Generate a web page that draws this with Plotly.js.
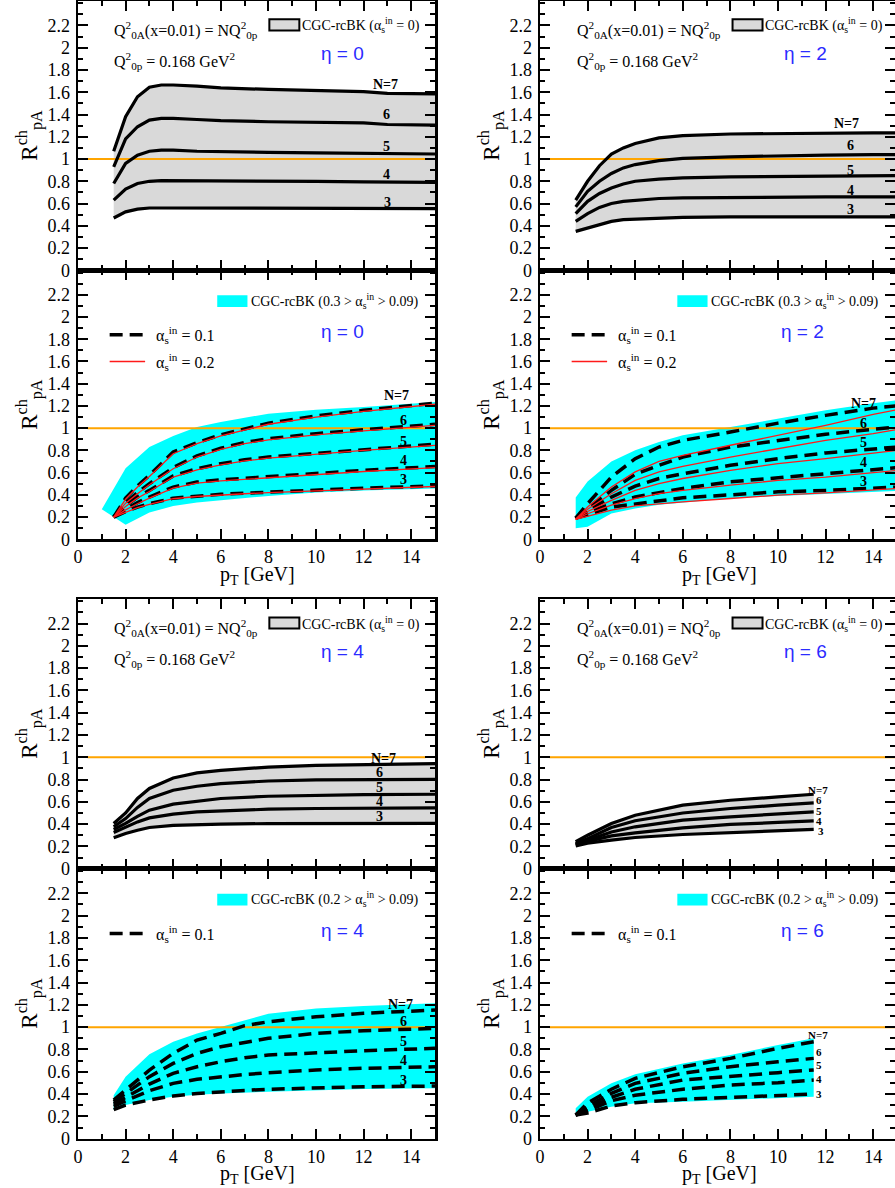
<!DOCTYPE html>
<html><head><meta charset="utf-8">
<script src="https://cdn.plot.ly/plotly-3.0.1.min.js"></script>
<style>body{margin:0;padding:0;background:#fff}#chart{width:895px;height:1188px}</style>
</head><body><div id="chart"></div>
<script>
// ---------------- DATA ----------------
// Panel 1: eta = 0, alpha_in = 0 (grey band)
const xA = [1.5, 2, 2.5, 3, 3.5, 4, 5, 6, 8, 10, 12, 13, 14, 15];
const eta0_a0_N7 = [1.07, 1.38, 1.56, 1.645, 1.665, 1.665, 1.655, 1.64, 1.625, 1.615, 1.605, 1.59, 1.59, 1.585];
const eta0_a0_N6 = [0.93, 1.18, 1.29, 1.35, 1.365, 1.365, 1.355, 1.345, 1.335, 1.33, 1.325, 1.31, 1.31, 1.305];
const eta0_a0_N5 = [0.78, 0.96, 1.035, 1.07, 1.08, 1.08, 1.07, 1.065, 1.06, 1.055, 1.05, 1.045, 1.045, 1.045];
const eta0_a0_N4 = [0.63, 0.73, 0.78, 0.80, 0.805, 0.805, 0.80, 0.80, 0.80, 0.80, 0.795, 0.795, 0.795, 0.79];
const eta0_a0_N3 = [0.47, 0.525, 0.55, 0.56, 0.56, 0.56, 0.56, 0.56, 0.56, 0.56, 0.56, 0.56, 0.555, 0.555];

// Panel 2: eta = 0, running coupling band + alpha_in = 0.1 (dashed) and 0.2 (red)
const xBandB = [1, 2, 3, 4, 5, 6, 8, 10, 12, 15];
const eta0_bandHi = [0.27, 0.64, 0.83, 0.93, 1.01, 1.055, 1.13, 1.165, 1.19, 1.235];
const eta0_bandLo = [0.27, 0.13, 0.24, 0.30, 0.33, 0.35, 0.39, 0.42, 0.44, 0.457];
const xB = [1.5, 2, 2.5, 3, 4, 5, 6, 7, 8, 10, 12, 15];
const eta0_a1_N7 = [0.20, 0.37, 0.48, 0.575, 0.785, 0.87, 0.94, 0.995, 1.045, 1.11, 1.16, 1.225];
const eta0_a1_N6 = [0.20, 0.33, 0.42, 0.50, 0.645, 0.75, 0.82, 0.87, 0.905, 0.95, 0.985, 1.035];
const eta0_a1_N5 = [0.20, 0.30, 0.38, 0.44, 0.57, 0.635, 0.68, 0.715, 0.74, 0.775, 0.81, 0.855];
const eta0_a1_N4 = [0.20, 0.27, 0.33, 0.38, 0.47, 0.515, 0.535, 0.55, 0.565, 0.595, 0.62, 0.655];
const eta0_a1_N3 = [0.20, 0.25, 0.29, 0.32, 0.37, 0.39, 0.405, 0.415, 0.425, 0.44, 0.46, 0.48];
const eta0_a2_N7 = [0.20, 0.36, 0.47, 0.565, 0.77, 0.86, 0.93, 0.985, 1.035, 1.10, 1.15, 1.215];
const eta0_a2_N6 = [0.20, 0.325, 0.41, 0.49, 0.635, 0.74, 0.81, 0.86, 0.895, 0.94, 0.975, 1.025];
const eta0_a2_N5 = [0.20, 0.295, 0.37, 0.43, 0.56, 0.625, 0.67, 0.705, 0.73, 0.765, 0.80, 0.845];
const eta0_a2_N4 = [0.20, 0.265, 0.32, 0.37, 0.46, 0.505, 0.525, 0.54, 0.555, 0.585, 0.61, 0.645];
const eta0_a2_N3 = [0.20, 0.245, 0.285, 0.315, 0.365, 0.385, 0.40, 0.41, 0.42, 0.435, 0.455, 0.475];

// Panel 3: eta = 2, alpha_in = 0
const xC = [1.5, 2, 2.5, 3, 3.5, 4, 5, 6, 8, 10, 12, 14, 15];
const eta2_a0_N7 = [0.63, 0.80, 0.94, 1.045, 1.10, 1.14, 1.19, 1.21, 1.225, 1.23, 1.235, 1.235, 1.235];
const eta2_a0_N6 = [0.57, 0.71, 0.80, 0.87, 0.92, 0.95, 0.985, 1.005, 1.02, 1.03, 1.035, 1.04, 1.04];
const eta2_a0_N5 = [0.51, 0.62, 0.69, 0.74, 0.775, 0.80, 0.82, 0.83, 0.84, 0.845, 0.85, 0.85, 0.85];
const eta2_a0_N4 = [0.44, 0.51, 0.565, 0.60, 0.62, 0.63, 0.645, 0.65, 0.655, 0.66, 0.66, 0.66, 0.66];
const eta2_a0_N3 = [0.35, 0.38, 0.415, 0.44, 0.455, 0.46, 0.47, 0.475, 0.48, 0.48, 0.48, 0.48, 0.48];

// Panel 4: eta = 2
const xD = [1.5, 2, 3, 4, 5, 6, 8, 10, 12, 14, 15];
const eta2_bandHi = [0.375, 0.52, 0.70, 0.80, 0.875, 0.935, 1.01, 1.085, 1.16, 1.225, 1.25];
const eta2_bandLo = [0.10, 0.113, 0.233, 0.278, 0.31, 0.33, 0.37, 0.39, 0.41, 0.43, 0.435];
const eta2_a1_N7 = [0.19, 0.32, 0.56, 0.725, 0.83, 0.89, 0.965, 1.045, 1.115, 1.18, 1.20];
const eta2_a1_N6 = [0.19, 0.28, 0.44, 0.585, 0.665, 0.74, 0.83, 0.89, 0.945, 0.99, 1.01];
const eta2_a1_N5 = [0.19, 0.26, 0.38, 0.478, 0.547, 0.59, 0.666, 0.726, 0.777, 0.81, 0.83];
const eta2_a1_N4 = [0.19, 0.24, 0.32, 0.38, 0.42, 0.457, 0.517, 0.556, 0.59, 0.63, 0.645];
const eta2_a1_N3 = [0.19, 0.22, 0.29, 0.32, 0.345, 0.373, 0.40, 0.427, 0.44, 0.463, 0.47];
const eta2_a2_N7 = [0.18, 0.29, 0.47, 0.606, 0.70, 0.756, 0.846, 0.935, 1.025, 1.124, 1.166];
const eta2_a2_N6 = [0.18, 0.27, 0.41, 0.53, 0.606, 0.657, 0.74, 0.816, 0.89, 0.95, 0.987];
const eta2_a2_N5 = [0.18, 0.25, 0.35, 0.44, 0.50, 0.547, 0.62, 0.68, 0.726, 0.777, 0.80];
const eta2_a2_N4 = [0.18, 0.23, 0.307, 0.367, 0.41, 0.44, 0.487, 0.53, 0.56, 0.597, 0.62];
const eta2_a2_N3 = [0.18, 0.21, 0.263, 0.30, 0.32, 0.337, 0.367, 0.397, 0.418, 0.44, 0.457];

// Panel 5: eta = 4, alpha_in = 0
const xE = [1.5, 2, 2.5, 3, 4, 5, 6, 8, 10, 12, 15];
const eta4_a0_N7 = [0.406, 0.50, 0.63, 0.72, 0.814, 0.86, 0.883, 0.912, 0.928, 0.935, 0.943];
const eta4_a0_N6 = [0.376, 0.45, 0.55, 0.63, 0.704, 0.74, 0.764, 0.787, 0.797, 0.80, 0.802];
const eta4_a0_N5 = [0.352, 0.406, 0.47, 0.525, 0.579, 0.608, 0.63, 0.65, 0.66, 0.665, 0.668];
const eta4_a0_N4 = [0.325, 0.37, 0.42, 0.456, 0.489, 0.51, 0.519, 0.534, 0.54, 0.544, 0.546];
const eta4_a0_N3 = [0.277, 0.316, 0.345, 0.37, 0.388, 0.396, 0.40, 0.405, 0.406, 0.406, 0.406];

// Panel 6: eta = 4
const xBandF = [1.5, 2, 3, 4, 5, 6, 8, 10, 12, 15];
const eta4_bandHi = [0.39, 0.556, 0.756, 0.87, 0.944, 1.004, 1.12, 1.168, 1.19, 1.213];
const eta4_bandLo = [0.257, 0.302, 0.347, 0.376, 0.395, 0.406, 0.421, 0.436, 0.445, 0.452];
const xF = [1.5, 2, 3, 4, 5, 6, 7, 8, 10, 12, 15];
const eta4_a1_N7 = [0.347, 0.436, 0.615, 0.765, 0.884, 0.944, 1.013, 1.048, 1.093, 1.124, 1.153];
const eta4_a1_N6 = [0.33, 0.406, 0.556, 0.675, 0.765, 0.824, 0.865, 0.90, 0.944, 0.968, 0.989];
const eta4_a1_N5 = [0.31, 0.371, 0.49, 0.586, 0.645, 0.69, 0.725, 0.75, 0.771, 0.789, 0.81];
const eta4_a1_N4 = [0.29, 0.34, 0.43, 0.496, 0.532, 0.556, 0.575, 0.592, 0.616, 0.631, 0.645];
const eta4_a1_N3 = [0.26, 0.302, 0.347, 0.383, 0.406, 0.421, 0.433, 0.443, 0.457, 0.466, 0.472];

// Panel 7: eta = 6, alpha_in = 0
const xG = [1.5, 2, 3, 4, 6, 8, 10, 11.5];
const eta6_a0_N7 = [0.242, 0.30, 0.406, 0.48, 0.57, 0.614, 0.644, 0.668];
const eta6_a0_N6 = [0.227, 0.27, 0.37, 0.43, 0.50, 0.54, 0.57, 0.59];
const eta6_a0_N5 = [0.22, 0.255, 0.33, 0.376, 0.436, 0.465, 0.489, 0.51];
const eta6_a0_N4 = [0.215, 0.245, 0.295, 0.322, 0.367, 0.397, 0.415, 0.43];
const eta6_a0_N3 = [0.205, 0.23, 0.257, 0.28, 0.307, 0.325, 0.34, 0.352];

// Panel 8: eta = 6
const xH = [1.5, 2, 3, 4, 6, 8, 10, 11.5];
const eta6_bandHi = [0.272, 0.376, 0.496, 0.577, 0.675, 0.75, 0.84, 0.90];
const eta6_bandLo = [0.227, 0.242, 0.287, 0.317, 0.332, 0.347, 0.362, 0.376];
const eta6_a1_N7 = [0.212, 0.32, 0.443, 0.541, 0.645, 0.72, 0.81, 0.869];
const eta6_a1_N6 = [0.212, 0.29, 0.406, 0.496, 0.586, 0.645, 0.69, 0.72];
const eta6_a1_N5 = [0.212, 0.27, 0.371, 0.443, 0.526, 0.562, 0.592, 0.616];
const eta6_a1_N4 = [0.212, 0.25, 0.34, 0.39, 0.443, 0.481, 0.502, 0.526];
const eta6_a1_N3 = [0.212, 0.23, 0.293, 0.323, 0.353, 0.371, 0.383, 0.40];

const curveLabels = ['N=7', '6', '5', '4', '3'];
const etaLabels = ['η = 0', 'η = 2', 'η = 4', 'η = 6'];
const yTickVals = [0, 0.2, 0.4, 0.6, 0.8, 1, 1.2, 1.4, 1.6, 1.8, 2, 2.2];
const yTickText = ['0', '0.2', '0.4', '0.6', '0.8', '1', '1.2', '1.4', '1.6', '1.8', '2', '2.2'];
const xTickVals = [0, 2, 4, 6, 8, 10, 12, 14];
const xTickText = ['0', '2', '4', '6', '8', '10', '12', '14'];

// ---------------- LAYOUT HELPERS ----------------
const W = 895, H = 1188;
const SERIF = 'Liberation Serif, Times New Roman, serif';
const SANS = 'Liberation Sans, Arial, sans-serif';
const GREY = '#d9d9d9', CYAN = '#00ffff', ORANGE = '#ffa500', RED = '#ff1a1a';
const colPx = [[78, 435], [540, 895]];
const colRange = [[0, 15], [0, 14.916]];
const rowPx = {1: [1, 270.3], 2: [270.3, 539.3], 3: [1, 270.3], 4: [270.3, 539.3],
               5: [599, 868.7], 6: [868.7, 1138.7], 7: [599, 868.7], 8: [868.7, 1138.7]};
const colOf = {1: 0, 2: 0, 3: 1, 4: 1, 5: 0, 6: 0, 7: 1, 8: 1};
const sfx = i => (i === 1 ? '' : String(i));

const traces = [];
function band(i, xs, lo, hi, color) {
  traces.push({x: xs.concat(xs.slice().reverse()), y: lo.concat(hi.slice().reverse()),
    mode: 'lines', fill: 'toself', fillcolor: color, line: {width: 0},
    xaxis: 'x' + sfx(i), yaxis: 'y' + sfx(i), hoverinfo: 'skip', showlegend: false});
}
function line(i, xs, ys, color, width, dash) {
  traces.push({x: xs, y: ys, mode: 'lines', line: {color: color, width: width, dash: dash || 'solid'},
    xaxis: 'x' + sfx(i), yaxis: 'y' + sfx(i), hoverinfo: 'skip', showlegend: false});
}
function refLine(i, x0, x1) { line(i, [x0, x1], [1, 1], ORANGE, 2); }

const DASH = '13px,7px';
band(1, xA, eta0_a0_N3, eta0_a0_N7, GREY); refLine(1, 0.4, 14.6);
[eta0_a0_N7, eta0_a0_N6, eta0_a0_N5, eta0_a0_N4, eta0_a0_N3].forEach(s => line(1, xA, s, '#000', 3.2));
band(2, xBandB, eta0_bandLo, eta0_bandHi, CYAN); refLine(2, 0.4, 14.6);
[eta0_a1_N7, eta0_a1_N6, eta0_a1_N5, eta0_a1_N4, eta0_a1_N3].forEach(s => line(2, xB, s, '#000', 3.5, DASH));
[eta0_a2_N7, eta0_a2_N6, eta0_a2_N5, eta0_a2_N4, eta0_a2_N3].forEach(s => line(2, xB, s, RED, 1.3));
band(3, xC, eta2_a0_N3, eta2_a0_N7, GREY); refLine(3, 0.05, 14.92);
[eta2_a0_N7, eta2_a0_N6, eta2_a0_N5, eta2_a0_N4, eta2_a0_N3].forEach(s => line(3, xC, s, '#000', 3.2));
band(4, xD, eta2_bandLo, eta2_bandHi, CYAN); refLine(4, 0.4, 14.92);
[eta2_a1_N7, eta2_a1_N6, eta2_a1_N5, eta2_a1_N4, eta2_a1_N3].forEach(s => line(4, xD, s, '#000', 3.5, DASH));
[eta2_a2_N7, eta2_a2_N6, eta2_a2_N5, eta2_a2_N4, eta2_a2_N3].forEach(s => line(4, xD, s, RED, 1.3));
band(5, xE, eta4_a0_N3, eta4_a0_N7, GREY); refLine(5, 0.4, 14.6);
[eta4_a0_N7, eta4_a0_N6, eta4_a0_N5, eta4_a0_N4, eta4_a0_N3].forEach(s => line(5, xE, s, '#000', 3.2));
band(6, xBandF, eta4_bandLo, eta4_bandHi, CYAN); refLine(6, 0.4, 14.6);
[eta4_a1_N7, eta4_a1_N6, eta4_a1_N5, eta4_a1_N4, eta4_a1_N3].forEach(s => line(6, xF, s, '#000', 3.5, DASH));
band(7, xG, eta6_a0_N3, eta6_a0_N7, GREY); refLine(7, 0.4, 14.92);
[eta6_a0_N7, eta6_a0_N6, eta6_a0_N5, eta6_a0_N4, eta6_a0_N3].forEach(s => line(7, xG, s, '#000', 3.2));
band(8, xH, eta6_bandLo, eta6_bandHi, CYAN); refLine(8, 0.4, 14.92);
[eta6_a1_N7, eta6_a1_N6, eta6_a1_N5, eta6_a1_N4, eta6_a1_N3].forEach(s => line(8, xH, s, '#000', 3.5, DASH));

// ---------------- AXES ----------------
const layout = {
  width: W, height: H, margin: {l: 0, r: 0, t: 0, b: 0},
  paper_bgcolor: '#fff', plot_bgcolor: 'rgba(0,0,0,0)', showlegend: false,
  font: {family: SERIF, color: '#000'},
  annotations: [], shapes: []
};
for (let i = 1; i <= 8; i++) {
  const c = colOf[i], r = rowPx[i];
  const isBottom = (i % 2 === 0);
  layout['xaxis' + sfx(i)] = {
    domain: [colPx[c][0] / W, colPx[c][1] / W], range: colRange[c], anchor: 'y' + sfx(i),
    showline: true, linewidth: 2.5, linecolor: '#000', mirror: 'ticks',
    ticks: 'inside', ticklen: 10, tickwidth: 2, tickcolor: '#000',
    tickmode: 'array', tickvals: xTickVals, ticktext: xTickText,
    minor: {tickmode: 'linear', tick0: 0, dtick: 1, ticklen: 5, tickwidth: 2, tickcolor: '#000', ticks: 'inside'},
    showgrid: false, zeroline: false, showticklabels: isBottom,
    tickfont: {family: SERIF, size: 18, color: '#000'}, ticklabelstandoff: 0, fixedrange: true
  };
  layout['yaxis' + sfx(i)] = {
    domain: [1 - r[1] / H, 1 - r[0] / H], range: [0, 2.42], anchor: 'x' + sfx(i),
    showline: true, linewidth: 2.5, linecolor: '#000', mirror: 'ticks',
    ticks: 'inside', ticklen: 10, tickwidth: 2, tickcolor: '#000',
    tickmode: 'array', tickvals: yTickVals, ticktext: yTickText,
    minor: {tickmode: 'linear', tick0: 0, dtick: 0.1, ticklen: 5, tickwidth: 2, tickcolor: '#000', ticks: 'inside'},
    showgrid: false, zeroline: false, showticklabels: true,
    tickfont: {family: SERIF, size: 18, color: '#000'}, ticklabelstandoff: 2, fixedrange: true
  };
  layout.annotations.push({xref: 'paper', yref: 'paper', x: (c === 0 ? 29 : 491) / W,
    y: 1 - (r[0] + r[1]) / 2 / H, text: 'R<sup>ch</sup><sub>pA</sub>', textangle: -90,
    showarrow: false, xanchor: 'center', yanchor: 'middle', font: {family: SERIF, size: 23}});
  if (isBottom) {
    layout.annotations.push({xref: 'paper', yref: 'paper', x: (c === 0 ? 257 : 719) / W,
      y: 1 - (r[1] + 36) / H, text: 'p<sub>T</sub> [GeV]', showarrow: false,
      xanchor: 'center', yanchor: 'middle', font: {family: SERIF, size: 20}});
  }
}

function ann(i, x, y, text, opt) {
  layout.annotations.push(Object.assign({xref: 'x' + sfx(i), yref: 'y' + sfx(i), x: x, y: y, text: text,
    showarrow: false, xanchor: 'left', yanchor: 'middle', font: {family: SERIF, size: 16, color: '#000'}}, opt || {}));
}
function rect(i, x0, x1, y0, y1, color, border) {
  layout.shapes.push({type: 'rect', xref: 'x' + sfx(i), yref: 'y' + sfx(i), x0: x0, x1: x1, y0: y0, y1: y1,
    fillcolor: color, line: {color: '#000', width: border ? 2 : 0}});
}
function legLine(i, x0, x1, y, color, width, dash) {
  layout.shapes.push({type: 'line', xref: 'x' + sfx(i), yref: 'y' + sfx(i), x0: x0, x1: x1, y0: y, y1: y,
    line: {color: color, width: width, dash: dash}});
}

const q1 = 'Q<sup>2</sup><sub>0A</sub>(x=0.01) = NQ<sup>2</sup><sub>0p</sub>';
const q2 = 'Q<sup>2</sup><sub>0p</sub> = 0.168 GeV<sup>2</sup>';
const leg0 = 'CGC-rcBK (α<sub>s</sub><sup>in</sup> = 0)';
const a01 = 'α<sub>s</sub><sup>in</sup> = 0.1';
const a02 = 'α<sub>s</sub><sup>in</sup> = 0.2';

[[1, 0], [3, 1], [5, 2], [7, 3]].forEach(([i, k]) => {
  const dx = colOf[i] === 0 ? 0 : 0.05;
  ann(i, 1.42 + dx, 2.16, q1);
  ann(i, 1.42 + dx, 1.88, q2);
  rect(i, 8.04 + dx, 9.30 + dx, 2.155, 2.255, GREY, true);
  ann(i, 9.33 + dx, 2.20, leg0, {font: {family: SERIF, size: 14, color: '#000'}});
  ann(i, 11.12 + dx, 1.95, etaLabels[k], {xanchor: 'center', font: {family: SANS, size: 19, color: '#2b2bff'}});
});
[[2, 0, '0.3'], [4, 1, '0.3'], [6, 2, '0.2'], [8, 3, '0.2']].forEach(([i, k, amax]) => {
  const dx = colOf[i] === 0 ? 0 : -0.08;
  rect(i, 5.85 + dx, 7.12 + dx, 2.09, 2.195, CYAN, false);
  ann(i, 7.17 + dx, 2.145, 'CGC-rcBK (' + amax + ' &gt; α<sub>s</sub><sup>in</sup> &gt; 0.09)', {font: {family: SERIF, size: 14, color: '#000'}});
  ann(i, 11.12 + dx, 1.87, etaLabels[k], {xanchor: 'center', font: {family: SANS, size: 19, color: '#2b2bff'}});
  legLine(i, 1.33, 2.82, 1.84, '#000', 3.5, '13px,7px');
  ann(i, 3.2, 1.835, a01);
  if (i === 2 || i === 4) {
    legLine(i, 1.33, 2.82, 1.60, RED, 1.5, 'solid');
    ann(i, 3.2, 1.595, a02);
  }
});

function clabels(i, pos, size) {
  pos.forEach((p, j) => layout.annotations.push({xref: 'x' + sfx(i), yref: 'y' + sfx(i), x: p[0], y: p[1],
    text: curveLabels[j], showarrow: false, xanchor: 'center', yanchor: 'middle',
    font: {family: SERIF, size: size, color: '#000', weight: 'bold'}}));
}
clabels(1, [[12.9, 1.67], [12.97, 1.40], [12.97, 1.11], [12.97, 0.863], [13.0, 0.61]], 14);
clabels(2, [[13.39, 1.294], [13.67, 1.07], [13.67, 0.884], [13.67, 0.705], [13.67, 0.54]], 14);
clabels(3, [[12.86, 1.316], [13.03, 1.118], [13.03, 0.896], [13.03, 0.716], [13.03, 0.542]], 14);
clabels(4, [[13.58, 1.22], [13.58, 1.046], [13.58, 0.87], [13.58, 0.69], [13.58, 0.517]], 14);
clabels(5, [[12.83, 0.987], [12.68, 0.859], [12.68, 0.733], [12.68, 0.60], [12.68, 0.471]], 14);
clabels(6, [[13.53, 1.207], [13.67, 1.048], [13.67, 0.869], [13.67, 0.705], [13.67, 0.526]], 14);
clabels(7, [[11.69, 0.71], [11.74, 0.615], [11.74, 0.519], [11.74, 0.43], [11.8, 0.34]], 11);
clabels(8, [[11.69, 0.929], [11.72, 0.78], [11.74, 0.66], [11.74, 0.535], [11.74, 0.398]], 11);

Plotly.newPlot('chart', traces, layout, {staticPlot: true, displayModeBar: false});
</script></body></html>
